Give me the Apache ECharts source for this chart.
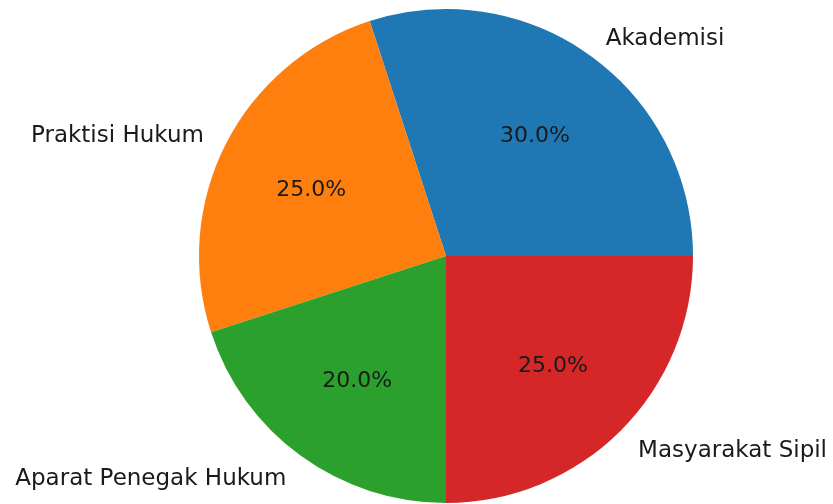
<!DOCTYPE html>
<html>
<head>
<meta charset="utf-8">
<script src="https://cdn.jsdelivr.net/npm/echarts@6/dist/echarts.min.js"></script>
<style>
  html, body { margin: 0; padding: 0; background: #fff; }
  #chart { width: 833px; height: 504px; }
</style>
</head>
<body>
<div id="chart"></div>
<script>
const categories = ['Akademisi', 'Praktisi Hukum', 'Aparat Penegak Hukum', 'Masyarakat Sipil']
const shares = [30, 25, 20, 25]
const colors = ['#1f77b4', '#ff7f0e', '#2ca02c', '#d62728']

const center = [446, 256]
const R = 247

const chart = echarts.init(document.getElementById('chart'))

const pieData = categories.map((name, i) => ({
  name: name,
  value: shares[i],
  itemStyle: { color: colors[i] }
}))

const textFont = {
  fontFamily: 'DejaVu Sans',
  fontSize: 23,
  color: '#1a1a1a',
  textBorderWidth: 0,
  offset: [0, 3]
}

const option = {
  animation: false,
  series: [
    {
      // slices + category names at 1.1 r
      type: 'pie',
      center: center,
      radius: [0, R],
      startAngle: 0,
      clockwise: false,
      avoidLabelOverlap: false,
      silent: true,
      itemStyle: { borderWidth: 0 },
      label: {
        show: true,
        position: 'outside',
        distanceToLabelLine: 0,
        formatter: '{b}',
        ...textFont
      },
      labelLine: { show: false, length: R * 0.1, length2: 0 },
      data: pieData
    },
    {
      // invisible ring just to place the percentages at 0.6 r
      type: 'pie',
      center: center,
      radius: [0, R * 1.2],
      startAngle: 0,
      clockwise: false,
      avoidLabelOverlap: false,
      silent: true,
      itemStyle: { color: 'transparent', borderWidth: 0 },
      label: {
        show: true,
        position: 'inside',
        formatter: p => p.value.toFixed(1) + '%',
        ...textFont,
        fontSize: 22
      },
      labelLine: { show: false },
      data: categories.map((name, i) => ({ name: name, value: shares[i], itemStyle: { color: 'transparent' } }))
    }
  ]
}

chart.setOption(option)
</script>
</body>
</html>
